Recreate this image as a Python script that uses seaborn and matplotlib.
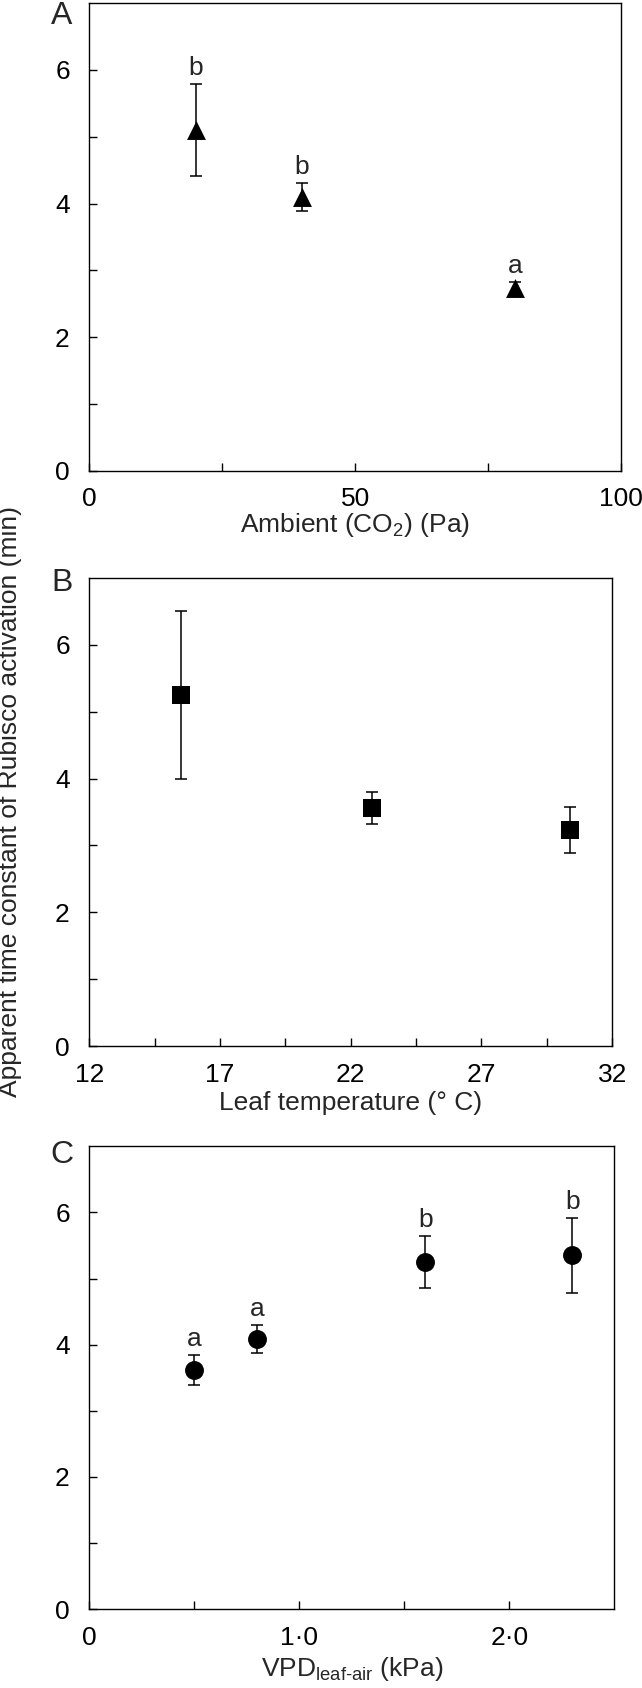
import matplotlib
matplotlib.use("Agg")
import matplotlib.pyplot as plt
from matplotlib.ticker import FixedLocator
import seaborn as sns
import pandas as pd

# Panel A: ambient CO2
co2 = [20, 40, 80]
tau_co2 = [5.1, 4.1, 2.73]
err_co2 = [0.69, 0.21, 0.1]
letters_co2 = ["b", "b", "a"]

# Panel B: leaf temperature
temp = [15.5, 22.8, 30.4]
tau_temp = [5.25, 3.56, 3.23]
err_temp = [1.25, 0.24, 0.35]

# Panel C: VPD
vpd = [0.5, 0.8, 1.6, 2.3]
tau_vpd = [3.62, 4.08, 5.25, 5.35]
err_vpd = [0.23, 0.21, 0.40, 0.57]
letters_vpd = ["a", "a", "b", "b"]

sns.set_style("ticks")
plt.rcParams["font.family"] = ["Liberation Sans", "DejaVu Sans"]
plt.rcParams["mathtext.fontset"] = "custom"
plt.rcParams["mathtext.rm"] = "Liberation Sans"
plt.rcParams["mathtext.it"] = "Liberation Sans"
plt.rcParams["mathtext.default"] = "regular"

FS = 19
fig = plt.figure(figsize=(6.42, 16.88), dpi=100)

panels = [
    dict(pos=[0.1391, 0.7211, 0.8285, 0.2771], x=co2, y=tau_co2, e=err_co2, marker="^",
         letters=letters_co2, xlim=(0, 100), major=[0, 50, 100], minor=[25, 75],
         xticklabels=["0", "50", "100"], xlabel="Ambient (CO$_2$) (Pa)", tag="A",
         tag_y=0.9905, label_y=-0.086),
    dict(pos=[0.1391, 0.3803, 0.8145, 0.2773], x=temp, y=tau_temp, e=err_temp, marker="s",
         letters=None, xlim=(12, 32), major=[12, 17, 22, 27, 32], minor=[14.5, 19.5, 24.5, 29.5],
         xticklabels=["12", "17", "22", "27", "32"], xlabel="Leaf temperature (° C)", tag="B",
         tag_y=0.6545, label_y=-0.096),
    dict(pos=[0.1391, 0.0468, 0.8178, 0.2741], x=vpd, y=tau_vpd, e=err_vpd, marker="o",
         letters=letters_vpd, xlim=(0, 2.5), major=[0, 1, 2], minor=[0.5, 1.5],
         xticklabels=["0", "1·0", "2·0"], xlabel="VPD$_{\\mathregular{leaf\\text{-}air}}$ (kPa)",
         tag="C", tag_y=0.3158, label_y=-0.099),
]

for p in panels:
    ax = fig.add_axes(p["pos"])
    df = pd.DataFrame({"x": p["x"], "y": p["y"]})
    ax.errorbar(df["x"], df["y"], yerr=p["e"], fmt="none", ecolor="black",
                elinewidth=1.1, capsize=4.3, capthick=1.1, zorder=2)
    sns.scatterplot(data=df, x="x", y="y", marker=p["marker"], s=185, color="black",
                    edgecolor="black", linewidth=0, ax=ax, zorder=3)
    if p["letters"]:
        for xi, yi, ei, lab in zip(p["x"], p["y"], p["e"], p["letters"]):
            ax.text(xi, yi + ei + 0.06, lab, ha="center", va="bottom", fontsize=FS)
    ax.set_xlim(*p["xlim"])
    ax.set_ylim(0, 7)
    ax.set_xticks(p["major"])
    ax.set_xticklabels(p["xticklabels"])
    ax.xaxis.set_minor_locator(FixedLocator(p["minor"]))
    ax.set_yticks([0, 2, 4, 6])
    ax.yaxis.set_minor_locator(FixedLocator([1, 3, 5]))
    ax.tick_params(which="both", direction="in", length=6, width=1, labelsize=FS,
                   top=False, right=False, colors="black")
    ax.tick_params(axis="x", which="both", pad=12)
    ax.tick_params(axis="y", which="both", pad=14)
    for sp in ax.spines.values():
        sp.set_visible(True)
        sp.set_linewidth(1)
        sp.set_color("black")
    ax.set_xlabel(p["xlabel"], fontsize=FS)
    ax.xaxis.set_label_coords(0.5, p["label_y"])
    ax.set_ylabel("")
    fig.text(0.096, p["tag_y"], p["tag"], fontsize=23, ha="center", va="center")

fig.text(0.016, 0.525, "Apparent time constant of Rubisco activation (min)",
         rotation=90, fontsize=FS, ha="center", va="center")

fig.savefig("out.png", dpi=100, facecolor="white")
